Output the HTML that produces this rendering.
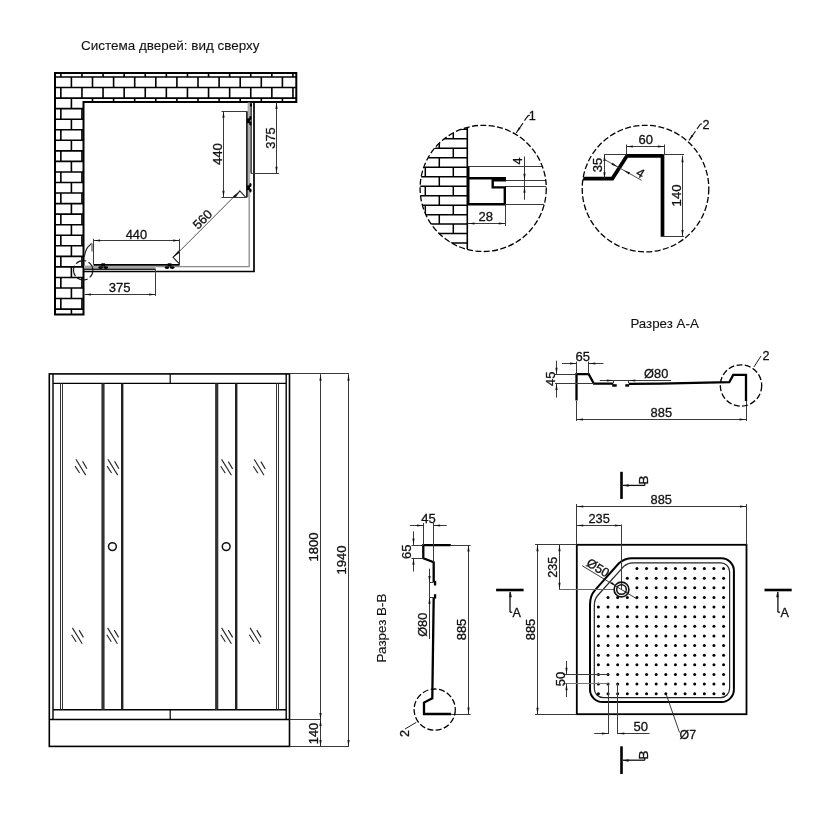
<!DOCTYPE html>
<html><head><meta charset="utf-8"><style>
html,body{margin:0;padding:0;background:#fff;}
svg{display:block;will-change:transform;font-family:"Liberation Sans",sans-serif;}
text{stroke:#111;stroke-width:0.3px;}
text.lbl{stroke-width:0.1px;}
</style></head><body>
<svg width="813" height="813" viewBox="0 0 813 813">
<rect width="813" height="813" fill="#fff"/>
<text x="81" y="49.9" font-size="13.5" text-anchor="start" fill="#111" textLength="178.5" lengthAdjust="spacingAndGlyphs" class="lbl">Система дверей: вид сверху</text>
<clipPath id="wallclip"><path d="M55,73 H296.3 V102 H83.5 V314.4 H55 Z"/></clipPath>
<g clip-path="url(#wallclip)"><path d="M60.85,66.45 V77 M81.95,66.45 V77 M103.05,66.45 V77 M124.15,66.45 V77 M145.25,66.45 V77 M166.35,66.45 V77 M187.45,66.45 V77 M208.55,66.45 V77 M229.65,66.45 V77 M250.75,66.45 V77 M271.85,66.45 V77 M292.95,66.45 V77 M55,77 H296.3 M71.4,77 V87.55 M92.5,77 V87.55 M113.6,77 V87.55 M134.7,77 V87.55 M155.8,77 V87.55 M176.9,77 V87.55 M198,77 V87.55 M219.1,77 V87.55 M240.2,77 V87.55 M261.3,77 V87.55 M282.4,77 V87.55 M55,87.55 H296.3 M60.85,87.55 V98.1 M81.95,87.55 V98.1 M103.05,87.55 V98.1 M124.15,87.55 V98.1 M145.25,87.55 V98.1 M166.35,87.55 V98.1 M187.45,87.55 V98.1 M208.55,87.55 V98.1 M229.65,87.55 V98.1 M250.75,87.55 V98.1 M271.85,87.55 V98.1 M292.95,87.55 V98.1 M55,98.1 H296.3 M71.4,98.1 V108.65 M92.5,98.1 V108.65 M113.6,98.1 V108.65 M134.7,98.1 V108.65 M155.8,98.1 V108.65 M176.9,98.1 V108.65 M198,98.1 V108.65 M219.1,98.1 V108.65 M240.2,98.1 V108.65 M261.3,98.1 V108.65 M282.4,98.1 V108.65 M55,108.65 H296.3 M60.85,108.65 V119.2 M81.95,108.65 V119.2 M103.05,108.65 V119.2 M124.15,108.65 V119.2 M145.25,108.65 V119.2 M166.35,108.65 V119.2 M187.45,108.65 V119.2 M208.55,108.65 V119.2 M229.65,108.65 V119.2 M250.75,108.65 V119.2 M271.85,108.65 V119.2 M292.95,108.65 V119.2 M55,119.2 H296.3 M71.4,119.2 V129.75 M92.5,119.2 V129.75 M113.6,119.2 V129.75 M134.7,119.2 V129.75 M155.8,119.2 V129.75 M176.9,119.2 V129.75 M198,119.2 V129.75 M219.1,119.2 V129.75 M240.2,119.2 V129.75 M261.3,119.2 V129.75 M282.4,119.2 V129.75 M55,129.75 H296.3 M60.85,129.75 V140.3 M81.95,129.75 V140.3 M103.05,129.75 V140.3 M124.15,129.75 V140.3 M145.25,129.75 V140.3 M166.35,129.75 V140.3 M187.45,129.75 V140.3 M208.55,129.75 V140.3 M229.65,129.75 V140.3 M250.75,129.75 V140.3 M271.85,129.75 V140.3 M292.95,129.75 V140.3 M55,140.3 H296.3 M71.4,140.3 V150.85 M92.5,140.3 V150.85 M113.6,140.3 V150.85 M134.7,140.3 V150.85 M155.8,140.3 V150.85 M176.9,140.3 V150.85 M198,140.3 V150.85 M219.1,140.3 V150.85 M240.2,140.3 V150.85 M261.3,140.3 V150.85 M282.4,140.3 V150.85 M55,150.85 H296.3 M60.85,150.85 V161.4 M81.95,150.85 V161.4 M103.05,150.85 V161.4 M124.15,150.85 V161.4 M145.25,150.85 V161.4 M166.35,150.85 V161.4 M187.45,150.85 V161.4 M208.55,150.85 V161.4 M229.65,150.85 V161.4 M250.75,150.85 V161.4 M271.85,150.85 V161.4 M292.95,150.85 V161.4 M55,161.4 H296.3 M71.4,161.4 V171.95 M92.5,161.4 V171.95 M113.6,161.4 V171.95 M134.7,161.4 V171.95 M155.8,161.4 V171.95 M176.9,161.4 V171.95 M198,161.4 V171.95 M219.1,161.4 V171.95 M240.2,161.4 V171.95 M261.3,161.4 V171.95 M282.4,161.4 V171.95 M55,171.95 H296.3 M60.85,171.95 V182.5 M81.95,171.95 V182.5 M103.05,171.95 V182.5 M124.15,171.95 V182.5 M145.25,171.95 V182.5 M166.35,171.95 V182.5 M187.45,171.95 V182.5 M208.55,171.95 V182.5 M229.65,171.95 V182.5 M250.75,171.95 V182.5 M271.85,171.95 V182.5 M292.95,171.95 V182.5 M55,182.5 H296.3 M71.4,182.5 V193.05 M92.5,182.5 V193.05 M113.6,182.5 V193.05 M134.7,182.5 V193.05 M155.8,182.5 V193.05 M176.9,182.5 V193.05 M198,182.5 V193.05 M219.1,182.5 V193.05 M240.2,182.5 V193.05 M261.3,182.5 V193.05 M282.4,182.5 V193.05 M55,193.05 H296.3 M60.85,193.05 V203.6 M81.95,193.05 V203.6 M103.05,193.05 V203.6 M124.15,193.05 V203.6 M145.25,193.05 V203.6 M166.35,193.05 V203.6 M187.45,193.05 V203.6 M208.55,193.05 V203.6 M229.65,193.05 V203.6 M250.75,193.05 V203.6 M271.85,193.05 V203.6 M292.95,193.05 V203.6 M55,203.6 H296.3 M71.4,203.6 V214.15 M92.5,203.6 V214.15 M113.6,203.6 V214.15 M134.7,203.6 V214.15 M155.8,203.6 V214.15 M176.9,203.6 V214.15 M198,203.6 V214.15 M219.1,203.6 V214.15 M240.2,203.6 V214.15 M261.3,203.6 V214.15 M282.4,203.6 V214.15 M55,214.15 H296.3 M60.85,214.15 V224.7 M81.95,214.15 V224.7 M103.05,214.15 V224.7 M124.15,214.15 V224.7 M145.25,214.15 V224.7 M166.35,214.15 V224.7 M187.45,214.15 V224.7 M208.55,214.15 V224.7 M229.65,214.15 V224.7 M250.75,214.15 V224.7 M271.85,214.15 V224.7 M292.95,214.15 V224.7 M55,224.7 H296.3 M71.4,224.7 V235.25 M92.5,224.7 V235.25 M113.6,224.7 V235.25 M134.7,224.7 V235.25 M155.8,224.7 V235.25 M176.9,224.7 V235.25 M198,224.7 V235.25 M219.1,224.7 V235.25 M240.2,224.7 V235.25 M261.3,224.7 V235.25 M282.4,224.7 V235.25 M55,235.25 H296.3 M60.85,235.25 V245.8 M81.95,235.25 V245.8 M103.05,235.25 V245.8 M124.15,235.25 V245.8 M145.25,235.25 V245.8 M166.35,235.25 V245.8 M187.45,235.25 V245.8 M208.55,235.25 V245.8 M229.65,235.25 V245.8 M250.75,235.25 V245.8 M271.85,235.25 V245.8 M292.95,235.25 V245.8 M55,245.8 H296.3 M71.4,245.8 V256.35 M92.5,245.8 V256.35 M113.6,245.8 V256.35 M134.7,245.8 V256.35 M155.8,245.8 V256.35 M176.9,245.8 V256.35 M198,245.8 V256.35 M219.1,245.8 V256.35 M240.2,245.8 V256.35 M261.3,245.8 V256.35 M282.4,245.8 V256.35 M55,256.35 H296.3 M60.85,256.35 V266.9 M81.95,256.35 V266.9 M103.05,256.35 V266.9 M124.15,256.35 V266.9 M145.25,256.35 V266.9 M166.35,256.35 V266.9 M187.45,256.35 V266.9 M208.55,256.35 V266.9 M229.65,256.35 V266.9 M250.75,256.35 V266.9 M271.85,256.35 V266.9 M292.95,256.35 V266.9 M55,266.9 H296.3 M71.4,266.9 V277.45 M92.5,266.9 V277.45 M113.6,266.9 V277.45 M134.7,266.9 V277.45 M155.8,266.9 V277.45 M176.9,266.9 V277.45 M198,266.9 V277.45 M219.1,266.9 V277.45 M240.2,266.9 V277.45 M261.3,266.9 V277.45 M282.4,266.9 V277.45 M55,277.45 H296.3 M60.85,277.45 V288 M81.95,277.45 V288 M103.05,277.45 V288 M124.15,277.45 V288 M145.25,277.45 V288 M166.35,277.45 V288 M187.45,277.45 V288 M208.55,277.45 V288 M229.65,277.45 V288 M250.75,277.45 V288 M271.85,277.45 V288 M292.95,277.45 V288 M55,288 H296.3 M71.4,288 V298.55 M92.5,288 V298.55 M113.6,288 V298.55 M134.7,288 V298.55 M155.8,288 V298.55 M176.9,288 V298.55 M198,288 V298.55 M219.1,288 V298.55 M240.2,288 V298.55 M261.3,288 V298.55 M282.4,288 V298.55 M55,298.55 H296.3 M60.85,298.55 V309.1 M81.95,298.55 V309.1 M103.05,298.55 V309.1 M124.15,298.55 V309.1 M145.25,298.55 V309.1 M166.35,298.55 V309.1 M187.45,298.55 V309.1 M208.55,298.55 V309.1 M229.65,298.55 V309.1 M250.75,298.55 V309.1 M271.85,298.55 V309.1 M292.95,298.55 V309.1 M55,309.1 H296.3 M71.4,309.1 V319.65 M92.5,309.1 V319.65 M113.6,309.1 V319.65 M134.7,309.1 V319.65 M155.8,309.1 V319.65 M176.9,309.1 V319.65 M198,309.1 V319.65 M219.1,309.1 V319.65 M240.2,309.1 V319.65 M261.3,309.1 V319.65 M282.4,309.1 V319.65" stroke="#000" stroke-width="1.6" fill="none"/></g>
<path d="M55,73 L296.3,73 L296.3,102 L83.5,102 L83.5,314.4 L55,314.4 Z" stroke="#000" stroke-width="2" fill="none" stroke-linejoin="miter" />
<path d="M254,102 L254,271.5 L83.5,271.5" stroke="#000" stroke-width="1.7" fill="none" stroke-linejoin="miter" />
<path d="M249.2,103 L249.2,266.6 L155.6,266.6" stroke="#8a8a8a" stroke-width="1.3" fill="none" stroke-linejoin="miter" />
<rect x="247.6" y="102.5" width="2.6" height="94.7" fill="#ababab" stroke="none" stroke-width="0"/>
<line x1="246.9" y1="111.3" x2="246.9" y2="197.2" stroke="#000" stroke-width="1.5" />
<line x1="251.1" y1="102" x2="251.1" y2="173.2" stroke="#222" stroke-width="1.4" />
<rect x="84" y="265.6" width="71.6" height="2.9" fill="#a5a5a5" stroke="none" stroke-width="0"/>
<line x1="93.6" y1="264.9" x2="179.6" y2="264.9" stroke="#000" stroke-width="1.6" />
<line x1="84" y1="269.3" x2="155.6" y2="269.3" stroke="#222" stroke-width="1.4" />
<rect x="246.8" y="118.3" width="3.2" height="4.8" fill="#000" stroke="none" stroke-width="0"/>
<ellipse cx="250.4" cy="117.9" rx="1.2" ry="2" fill="#000"/>
<ellipse cx="250.4" cy="123.5" rx="1.2" ry="2" fill="#000"/>
<rect x="246.8" y="185.3" width="3.2" height="4.8" fill="#000" stroke="none" stroke-width="0"/>
<ellipse cx="250.4" cy="184.9" rx="1.2" ry="2" fill="#000"/>
<ellipse cx="250.4" cy="190.5" rx="1.2" ry="2" fill="#000"/>
<rect x="101.3" y="263.3" width="3.8" height="3.2" fill="#000" stroke="none" stroke-width="0"/>
<ellipse cx="100.6" cy="267.6" rx="2.4" ry="1.4" fill="#000"/>
<ellipse cx="105.8" cy="267.6" rx="2.4" ry="1.4" fill="#000"/>
<rect x="167.7" y="263.3" width="3.8" height="3.2" fill="#000" stroke="none" stroke-width="0"/>
<ellipse cx="167" cy="267.6" rx="2.4" ry="1.4" fill="#000"/>
<ellipse cx="172.2" cy="267.6" rx="2.4" ry="1.4" fill="#000"/>
<rect x="250" y="103.5" width="2" height="3" fill="#000"/>
<path d="M235.1,197.2 L239.8,190.9 L245.6,197.2" stroke="#222" stroke-width="1.1" fill="none" stroke-linejoin="miter" />
<path d="M179.6,250.4 L173,257.3 L179.6,264" stroke="#222" stroke-width="1.1" fill="none" stroke-linejoin="miter" />
<line x1="221.5" y1="111.5" x2="246.9" y2="111.5" stroke="#3a3a3a" stroke-width="1" />
<line x1="221.5" y1="197.5" x2="246.9" y2="197.5" stroke="#3a3a3a" stroke-width="1" />
<line x1="223.5" y1="111.3" x2="223.5" y2="197.2" stroke="#3a3a3a" stroke-width="1" />
<path d="M223.5,111.3 L224.6,117.8 L222.4,117.8 Z" fill="#111"/>
<path d="M223.5,197.2 L222.4,190.7 L224.6,190.7 Z" fill="#111"/>
<line x1="251.1" y1="173.5" x2="279" y2="173.5" stroke="#3a3a3a" stroke-width="1" />
<line x1="276.5" y1="102.5" x2="276.5" y2="173.2" stroke="#3a3a3a" stroke-width="1" />
<path d="M276.5,102.5 L277.6,109 L275.4,109 Z" fill="#111"/>
<path d="M276.5,173.2 L275.4,166.7 L277.6,166.7 Z" fill="#111"/>
<text transform="translate(221.9,154.1) rotate(-90)" font-size="12.6" text-anchor="middle" fill="#111" textLength="22" lengthAdjust="spacingAndGlyphs" >440</text>
<text transform="translate(275.1,138) rotate(-90)" font-size="12.6" text-anchor="middle" fill="#111" textLength="21.4" lengthAdjust="spacingAndGlyphs" >375</text>
<line x1="93.5" y1="238.8" x2="93.5" y2="264.9" stroke="#3a3a3a" stroke-width="1" />
<line x1="179.5" y1="238.8" x2="179.5" y2="264.9" stroke="#3a3a3a" stroke-width="1" />
<line x1="93.6" y1="240.5" x2="179.6" y2="240.5" stroke="#3a3a3a" stroke-width="1" />
<path d="M93.6,240.5 L100.1,239.4 L100.1,241.6 Z" fill="#111"/>
<path d="M179.6,240.5 L173.1,241.6 L173.1,239.4 Z" fill="#111"/>
<text x="136.4" y="238.6" font-size="12.6" text-anchor="middle" fill="#111" textLength="21.4" lengthAdjust="spacingAndGlyphs" >440</text>
<line x1="155.5" y1="269.3" x2="155.5" y2="296" stroke="#3a3a3a" stroke-width="1" />
<line x1="84.5" y1="294.5" x2="155.6" y2="294.5" stroke="#3a3a3a" stroke-width="1" />
<path d="M84.5,294.5 L91,293.4 L91,295.6 Z" fill="#111"/>
<path d="M155.6,294.5 L149.1,295.6 L149.1,293.4 Z" fill="#111"/>
<text x="119.6" y="292.1" font-size="12.6" text-anchor="middle" fill="#111" textLength="21.8" lengthAdjust="spacingAndGlyphs" >375</text>
<line x1="238.3" y1="192.4" x2="174.2" y2="256.6" stroke="#3a3a3a" stroke-width="0.9" />
<path d="M238.3,192.4 L234.49,197.78 L232.93,196.22 Z" fill="#111"/>
<path d="M174.2,256.6 L178.01,251.22 L179.57,252.78 Z" fill="#111"/>
<text transform="translate(205.5,222.5) rotate(-45)" font-size="12.6" text-anchor="middle" fill="#111" textLength="21.5" lengthAdjust="spacingAndGlyphs" >560</text>
<circle cx="83.2" cy="270.3" r="9.7" stroke="#111" stroke-width="1.1" fill="none" stroke-dasharray="11 2.5" stroke-dashoffset="3"/>
<path d="M84.3,257 Q85.5,250 87.6,247.3 L91.6,243.3" stroke="#222" stroke-width="1.1" fill="none"/>
<line x1="92" y1="243.5" x2="92" y2="251.6" stroke="#777" stroke-width="1.5" />
<clipPath id="c1"><circle cx="483.2" cy="188.4" r="63.1"/></clipPath>
<g clip-path="url(#c1)"><path d="M400,119.84 H467 M411.3,119.84 V129.32 M439.3,119.84 V129.32 M400,129.32 H467 M425.3,129.32 V138.8 M453.3,129.32 V138.8 M400,138.8 H467 M411.3,138.8 V148.28 M439.3,138.8 V148.28 M400,148.28 H467 M425.3,148.28 V157.76 M453.3,148.28 V157.76 M400,157.76 H467 M411.3,157.76 V167.24 M439.3,157.76 V167.24 M400,167.24 H467 M425.3,167.24 V176.72 M453.3,167.24 V176.72 M400,176.72 H467 M411.3,176.72 V186.2 M439.3,176.72 V186.2 M400,186.2 H467 M425.3,186.2 V195.68 M453.3,186.2 V195.68 M400,195.68 H467 M411.3,195.68 V205.16 M439.3,195.68 V205.16 M400,205.16 H467 M425.3,205.16 V214.64 M453.3,205.16 V214.64 M400,214.64 H467 M411.3,214.64 V224.12 M439.3,214.64 V224.12 M400,224.12 H467 M425.3,224.12 V233.6 M453.3,224.12 V233.6 M400,233.6 H467 M411.3,233.6 V243.08 M439.3,233.6 V243.08 M400,243.08 H467 M425.3,243.08 V252.56 M453.3,243.08 V252.56 M400,252.56 H467 M411.3,252.56 V262.04 M439.3,252.56 V262.04" stroke="#000" stroke-width="1.5" fill="none"/>
<line x1="467.3" y1="100" x2="467.3" y2="260" stroke="#000" stroke-width="1.6" />
<line x1="467" y1="166.5" x2="560" y2="166.5" stroke="#3a3a3a" stroke-width="1" />
<line x1="505" y1="180.5" x2="560" y2="180.5" stroke="#3a3a3a" stroke-width="1" />
<line x1="505" y1="186.5" x2="560" y2="186.5" stroke="#3a3a3a" stroke-width="1" />
<line x1="505" y1="204.5" x2="560" y2="204.5" stroke="#3a3a3a" stroke-width="1" />
</g>
<path d="M468.3,166.5 L468.3,204.3 L504.8,204.3 L504.8,187.4 L492.7,187.4 L492.7,180.3 L504.8,180.3 L504.8,178.3 L468.3,178.3" stroke="#000" stroke-width="2.4" fill="none" stroke-linejoin="miter" />
<circle cx="483.2" cy="188.4" r="63.1" stroke="#000" stroke-width="1.3" fill="none" stroke-dasharray="6 2.4"/>
<line x1="524.5" y1="156.5" x2="524.5" y2="199.8" stroke="#3a3a3a" stroke-width="1" />
<path d="M524.5,180.3 L523.4,173.8 L525.6,173.8 Z" fill="#111"/>
<path d="M524.5,186.2 L525.6,192.7 L523.4,192.7 Z" fill="#111"/>
<text transform="translate(522.2,161.1) rotate(-90)" font-size="12.6" text-anchor="middle" fill="#111" >4</text>
<line x1="505.5" y1="204.3" x2="505.5" y2="226" stroke="#3a3a3a" stroke-width="1" />
<line x1="468" y1="223.5" x2="505.3" y2="223.5" stroke="#3a3a3a" stroke-width="1" />
<path d="M468,223.5 L474.5,222.4 L474.5,224.6 Z" fill="#111"/>
<path d="M505.3,223.5 L498.8,224.6 L498.8,222.4 Z" fill="#111"/>
<text x="485.8" y="220.5" font-size="12.6" text-anchor="middle" fill="#111" textLength="14.5" lengthAdjust="spacingAndGlyphs" >28</text>
<line x1="516.1" y1="133" x2="523" y2="123.1" stroke="#111" stroke-width="1.1" />
<path d="M516.8,132 L518.76,127.27 L520.56,128.53 Z" fill="#111"/>
<path d="M524.4,120.7 L528.2,115.6 L529.8,115.2" stroke="#111" stroke-width="1.1" fill="none" stroke-linejoin="miter" />
<text x="532.3" y="120.3" font-size="12.6" text-anchor="middle" fill="#111" >1</text>
<circle cx="645.5" cy="188.6" r="63.3" stroke="#000" stroke-width="1.3" fill="none" stroke-dasharray="6 2.4"/>
<clipPath id="c2"><circle cx="645.5" cy="188.6" r="63.3"/></clipPath>
<g clip-path="url(#c2)">
<path d="M580,178.6 L612.4,178.6 L627,155.8 L662.5,155.8 L662.5,236.8" stroke="#000" stroke-width="3.7" fill="none" stroke-linejoin="miter" />
</g>
<line x1="604.4" y1="154.5" x2="627" y2="154.5" stroke="#3a3a3a" stroke-width="1" />
<line x1="662.4" y1="154.5" x2="684" y2="154.5" stroke="#3a3a3a" stroke-width="1" />
<line x1="626.5" y1="144.5" x2="626.5" y2="154.4" stroke="#3a3a3a" stroke-width="1" />
<line x1="664.5" y1="144.5" x2="664.5" y2="154.4" stroke="#3a3a3a" stroke-width="1" />
<line x1="626.4" y1="146.5" x2="664.4" y2="146.5" stroke="#3a3a3a" stroke-width="1" />
<path d="M626.4,146.5 L632.9,145.4 L632.9,147.6 Z" fill="#111"/>
<path d="M664.4,146.5 L657.9,147.6 L657.9,145.4 Z" fill="#111"/>
<text x="645.7" y="144.2" font-size="12.6" text-anchor="middle" fill="#111" textLength="14.5" lengthAdjust="spacingAndGlyphs" >60</text>
<line x1="604.5" y1="154.4" x2="604.5" y2="178.7" stroke="#3a3a3a" stroke-width="1" />
<path d="M604.5,154.4 L605.6,160.9 L603.4,160.9 Z" fill="#111"/>
<path d="M604.5,178.7 L603.4,172.2 L605.6,172.2 Z" fill="#111"/>
<text transform="translate(602.1,165) rotate(-90)" font-size="12.6" text-anchor="middle" fill="#111" textLength="14.5" lengthAdjust="spacingAndGlyphs" >35</text>
<line x1="604.5" y1="159.5" x2="641.7" y2="180.4" stroke="#3a3a3a" stroke-width="0.9" />
<path d="M617.7,166.9 L611.49,164.68 L612.57,162.76 Z" fill="#111"/>
<path d="M623.8,170.3 L630,172.54 L628.92,174.45 Z" fill="#111"/>
<text transform="translate(638.3,176.7) rotate(31)" font-size="12.6" text-anchor="middle" fill="#111" >4</text>
<line x1="662.4" y1="236.5" x2="684" y2="236.5" stroke="#3a3a3a" stroke-width="1" />
<line x1="682.5" y1="155.7" x2="682.5" y2="236.6" stroke="#3a3a3a" stroke-width="1" />
<path d="M682.5,155.7 L683.6,162.2 L681.4,162.2 Z" fill="#111"/>
<path d="M682.5,236.6 L681.4,230.1 L683.6,230.1 Z" fill="#111"/>
<text transform="translate(680.5,195.5) rotate(-90)" font-size="12.6" text-anchor="middle" fill="#111" textLength="21.8" lengthAdjust="spacingAndGlyphs" >140</text>
<line x1="689" y1="140.4" x2="695.5" y2="131.2" stroke="#111" stroke-width="1.1" />
<path d="M689.6,139.4 L691.63,134.7 L693.41,135.98 Z" fill="#111"/>
<path d="M697,128.8 L700.4,124.2 L702,123.8" stroke="#111" stroke-width="1.1" fill="none" stroke-linejoin="miter" />
<text x="706" y="129.3" font-size="12.6" text-anchor="middle" fill="#111" >2</text>
<text x="664.6" y="327.8" font-size="13.4" text-anchor="middle" fill="#111" textLength="68.4" lengthAdjust="spacingAndGlyphs" class="lbl">Разрез А-А</text>
<path d="M576.5,400.5 L576.5,374.2 L588.7,374.2 L593.9,383.7 L613.3,383.7" stroke="#000" stroke-width="2.3" fill="none" stroke-linejoin="miter" />
<rect x="612.2" y="384.2" width="4.5" height="2.5" fill="#000" stroke="none" stroke-width="0"/>
<path d="M628.8,383.9 L660,383.6 L729.3,382.2 L733.2,374.9 L746,374.9 L746,400.9" stroke="#000" stroke-width="2.3" fill="none" stroke-linejoin="miter" />
<rect x="625.3" y="384.2" width="3.9" height="2.5" fill="#000" stroke="none" stroke-width="0"/>
<line x1="576.5" y1="361.5" x2="576.5" y2="374" stroke="#3a3a3a" stroke-width="1" />
<line x1="588.5" y1="361.5" x2="588.5" y2="374" stroke="#3a3a3a" stroke-width="1" />
<line x1="562" y1="363.5" x2="576.5" y2="363.5" stroke="#3a3a3a" stroke-width="1" />
<path d="M576.5,363.5 L570,364.6 L570,362.4 Z" fill="#111"/>
<line x1="588.9" y1="363.5" x2="603.5" y2="363.5" stroke="#3a3a3a" stroke-width="1" />
<path d="M588.9,363.5 L595.4,362.4 L595.4,364.6 Z" fill="#111"/>
<text x="582.8" y="361.1" font-size="12.6" text-anchor="middle" fill="#111" textLength="14.5" lengthAdjust="spacingAndGlyphs" >65</text>
<line x1="555" y1="374.5" x2="576.5" y2="374.5" stroke="#3a3a3a" stroke-width="1" />
<line x1="555" y1="383.5" x2="594" y2="383.5" stroke="#3a3a3a" stroke-width="1" />
<line x1="556.5" y1="360.7" x2="556.5" y2="374.2" stroke="#3a3a3a" stroke-width="1" />
<path d="M556.5,374.2 L555.4,367.7 L557.6,367.7 Z" fill="#111"/>
<line x1="556.5" y1="383.5" x2="556.5" y2="397.6" stroke="#3a3a3a" stroke-width="1" />
<path d="M556.5,383.5 L557.6,390 L555.4,390 Z" fill="#111"/>
<text transform="translate(554.5,378.8) rotate(-90)" font-size="12.6" text-anchor="middle" fill="#111" textLength="14.5" lengthAdjust="spacingAndGlyphs" >45</text>
<line x1="599.8" y1="380.5" x2="671" y2="380.5" stroke="#3a3a3a" stroke-width="1" />
<path d="M613.3,380.5 L606.8,381.6 L606.8,379.4 Z" fill="#111"/>
<path d="M628.8,380.5 L635.3,379.4 L635.3,381.6 Z" fill="#111"/>
<line x1="613.5" y1="380.4" x2="613.5" y2="383" stroke="#3a3a3a" stroke-width="1" />
<line x1="628.5" y1="380.4" x2="628.5" y2="383" stroke="#3a3a3a" stroke-width="1" />
<text x="656.2" y="377.8" font-size="12.6" text-anchor="middle" fill="#111" textLength="24.2" lengthAdjust="spacingAndGlyphs" >Ø80</text>
<line x1="576.5" y1="401" x2="576.5" y2="421" stroke="#3a3a3a" stroke-width="1" />
<line x1="746.5" y1="401" x2="746.5" y2="421" stroke="#3a3a3a" stroke-width="1" />
<line x1="576.5" y1="419.5" x2="746" y2="419.5" stroke="#3a3a3a" stroke-width="1" />
<path d="M576.5,419.5 L583,418.4 L583,420.6 Z" fill="#111"/>
<path d="M746,419.5 L739.5,420.6 L739.5,418.4 Z" fill="#111"/>
<text x="661.3" y="416.6" font-size="12.6" text-anchor="middle" fill="#111" textLength="21.5" lengthAdjust="spacingAndGlyphs" >885</text>
<circle cx="741" cy="385.5" r="20.7" stroke="#000" stroke-width="1.3" fill="none" stroke-dasharray="6 2.4"/>
<path d="M753.9,367 L761,356" stroke="#222" stroke-width="1" fill="none" stroke-linejoin="miter" />
<text x="766" y="359.8" font-size="12.6" text-anchor="middle" fill="#111" >2</text>
<rect x="49.3" y="373.9" width="240.2" height="372.5" fill="none" stroke="#000" stroke-width="1.6"/>
<line x1="53" y1="373.9" x2="53" y2="719.5" stroke="#000" stroke-width="1.4" />
<line x1="286.2" y1="373.9" x2="286.2" y2="719.5" stroke="#000" stroke-width="1.4" />
<line x1="53" y1="383.4" x2="286.2" y2="383.4" stroke="#000" stroke-width="1.4" />
<line x1="53" y1="709.8" x2="286.2" y2="709.8" stroke="#000" stroke-width="1.4" />
<line x1="49.3" y1="719.5" x2="289.5" y2="719.5" stroke="#000" stroke-width="1.6" />
<line x1="170.2" y1="373.9" x2="170.2" y2="383.4" stroke="#000" stroke-width="1.2" />
<line x1="170.2" y1="709.8" x2="170.2" y2="719.5" stroke="#000" stroke-width="1.2" />
<line x1="60.5" y1="383.4" x2="60.5" y2="709.8" stroke="#333" stroke-width="1" />
<line x1="62.5" y1="383.4" x2="62.5" y2="709.8" stroke="#333" stroke-width="1" />
<line x1="276.5" y1="383.4" x2="276.5" y2="709.8" stroke="#333" stroke-width="1" />
<line x1="278.5" y1="383.4" x2="278.5" y2="709.8" stroke="#333" stroke-width="1" />
<line x1="103" y1="383.4" x2="103" y2="709.8" stroke="#333" stroke-width="3.2" />
<line x1="216.7" y1="383.4" x2="216.7" y2="709.8" stroke="#333" stroke-width="3.2" />
<line x1="122.2" y1="383.4" x2="122.2" y2="709.8" stroke="#222" stroke-width="2.4" />
<line x1="236.2" y1="383.4" x2="236.2" y2="709.8" stroke="#222" stroke-width="2.4" />
<circle cx="112.4" cy="546.6" r="3.9" stroke="#111" stroke-width="1.5" fill="none" />
<circle cx="226.2" cy="546.6" r="3.9" stroke="#111" stroke-width="1.5" fill="none" />
<line x1="75.9" y1="459.2" x2="85.7" y2="475.1" stroke="#222" stroke-width="1.1" />
<line x1="75.1" y1="466.1" x2="79.6" y2="473" stroke="#222" stroke-width="1.1" />
<line x1="82.6" y1="461.4" x2="86.9" y2="468.7" stroke="#222" stroke-width="1.1" />
<line x1="107.9" y1="459.2" x2="117.7" y2="475.1" stroke="#222" stroke-width="1.1" />
<line x1="107.1" y1="466.1" x2="111.6" y2="473" stroke="#222" stroke-width="1.1" />
<line x1="114.6" y1="461.4" x2="118.9" y2="468.7" stroke="#222" stroke-width="1.1" />
<line x1="221.6" y1="459.4" x2="231.4" y2="475.3" stroke="#222" stroke-width="1.1" />
<line x1="220.8" y1="466.3" x2="225.3" y2="473.2" stroke="#222" stroke-width="1.1" />
<line x1="228.3" y1="461.6" x2="232.6" y2="468.9" stroke="#222" stroke-width="1.1" />
<line x1="254.2" y1="459.4" x2="264" y2="475.3" stroke="#222" stroke-width="1.1" />
<line x1="253.4" y1="466.3" x2="257.9" y2="473.2" stroke="#222" stroke-width="1.1" />
<line x1="260.9" y1="461.6" x2="265.2" y2="468.9" stroke="#222" stroke-width="1.1" />
<line x1="72.4" y1="627.9" x2="82.2" y2="643.8" stroke="#222" stroke-width="1.1" />
<line x1="71.6" y1="634.8" x2="76.1" y2="641.7" stroke="#222" stroke-width="1.1" />
<line x1="79.1" y1="630.1" x2="83.4" y2="637.4" stroke="#222" stroke-width="1.1" />
<line x1="107.6" y1="627.9" x2="117.4" y2="643.8" stroke="#222" stroke-width="1.1" />
<line x1="106.8" y1="634.8" x2="111.3" y2="641.7" stroke="#222" stroke-width="1.1" />
<line x1="114.3" y1="630.1" x2="118.6" y2="637.4" stroke="#222" stroke-width="1.1" />
<line x1="221.6" y1="627.9" x2="231.4" y2="643.8" stroke="#222" stroke-width="1.1" />
<line x1="220.8" y1="634.8" x2="225.3" y2="641.7" stroke="#222" stroke-width="1.1" />
<line x1="228.3" y1="630.1" x2="232.6" y2="637.4" stroke="#222" stroke-width="1.1" />
<line x1="250.1" y1="627.9" x2="259.9" y2="643.8" stroke="#222" stroke-width="1.1" />
<line x1="249.3" y1="634.8" x2="253.8" y2="641.7" stroke="#222" stroke-width="1.1" />
<line x1="256.8" y1="630.1" x2="261.1" y2="637.4" stroke="#222" stroke-width="1.1" />
<line x1="289.5" y1="373.5" x2="349" y2="373.5" stroke="#3a3a3a" stroke-width="1" />
<line x1="289.5" y1="719.5" x2="321" y2="719.5" stroke="#3a3a3a" stroke-width="1" />
<line x1="289.5" y1="746.5" x2="349" y2="746.5" stroke="#3a3a3a" stroke-width="1" />
<line x1="320.5" y1="374.2" x2="320.5" y2="719.5" stroke="#3a3a3a" stroke-width="1" />
<path d="M320.5,374.2 L321.6,380.7 L319.4,380.7 Z" fill="#111"/>
<path d="M320.5,719.5 L319.4,713 L321.6,713 Z" fill="#111"/>
<line x1="320.5" y1="719.5" x2="320.5" y2="746.4" stroke="#3a3a3a" stroke-width="1" />
<path d="M320.5,719.5 L321.6,726 L319.4,726 Z" fill="#111"/>
<path d="M320.5,746.4 L319.4,739.9 L321.6,739.9 Z" fill="#111"/>
<line x1="348.5" y1="374.2" x2="348.5" y2="746.4" stroke="#3a3a3a" stroke-width="1" />
<path d="M348.5,374.2 L349.6,380.7 L347.4,380.7 Z" fill="#111"/>
<path d="M348.5,746.4 L347.4,739.9 L349.6,739.9 Z" fill="#111"/>
<text transform="translate(318.1,547) rotate(-90)" font-size="12.6" text-anchor="middle" fill="#111" textLength="29" lengthAdjust="spacingAndGlyphs" >1800</text>
<text transform="translate(345.6,560.1) rotate(-90)" font-size="12.6" text-anchor="middle" fill="#111" textLength="29" lengthAdjust="spacingAndGlyphs" >1940</text>
<text transform="translate(318,733.5) rotate(-90)" font-size="12.6" text-anchor="middle" fill="#111" textLength="21.5" lengthAdjust="spacingAndGlyphs" >140</text>
<text transform="translate(385.8,628) rotate(-90)" font-size="12.8" text-anchor="middle" fill="#111" textLength="68.8" lengthAdjust="spacingAndGlyphs" class="lbl">Разрез В-В</text>
<path d="M450.8,545.1 L423.3,545.1 L423.3,558.2 L433.7,562.3 L433.7,582.6" stroke="#000" stroke-width="2.3" fill="none" stroke-linejoin="miter" />
<rect x="433.9" y="580.9" width="2.3" height="4.6" fill="#000" stroke="none" stroke-width="0"/>
<rect x="433.9" y="594.2" width="2.3" height="4.4" fill="#000" stroke="none" stroke-width="0"/>
<path d="M433.7,597.3 L432.3,698.3 L424,702.6 L424,714 L451.1,714" stroke="#000" stroke-width="2.3" fill="none" stroke-linejoin="miter" />
<line x1="423.5" y1="523" x2="423.5" y2="545" stroke="#3a3a3a" stroke-width="1" />
<line x1="433.5" y1="523" x2="433.5" y2="562" stroke="#3a3a3a" stroke-width="1" />
<line x1="409.9" y1="525.5" x2="423.4" y2="525.5" stroke="#3a3a3a" stroke-width="1" />
<path d="M423.4,525.5 L416.9,526.6 L416.9,524.4 Z" fill="#111"/>
<line x1="433.6" y1="525.5" x2="446.7" y2="525.5" stroke="#3a3a3a" stroke-width="1" />
<path d="M433.6,525.5 L440.1,524.4 L440.1,526.6 Z" fill="#111"/>
<text x="428.6" y="522.5" font-size="12.6" text-anchor="middle" fill="#111" textLength="14.5" lengthAdjust="spacingAndGlyphs" >45</text>
<line x1="411.5" y1="545.5" x2="423.3" y2="545.5" stroke="#3a3a3a" stroke-width="1" />
<line x1="411.5" y1="558.5" x2="423.3" y2="558.5" stroke="#3a3a3a" stroke-width="1" />
<line x1="413.5" y1="531.3" x2="413.5" y2="545.1" stroke="#3a3a3a" stroke-width="1" />
<path d="M413.5,545.1 L412.4,538.6 L414.6,538.6 Z" fill="#111"/>
<line x1="413.5" y1="558.3" x2="413.5" y2="571.6" stroke="#3a3a3a" stroke-width="1" />
<path d="M413.5,558.3 L414.6,564.8 L412.4,564.8 Z" fill="#111"/>
<text transform="translate(410.8,551.7) rotate(-90)" font-size="12.6" text-anchor="middle" fill="#111" textLength="14.5" lengthAdjust="spacingAndGlyphs" >65</text>
<line x1="429.5" y1="568.7" x2="429.5" y2="639" stroke="#3a3a3a" stroke-width="1" />
<path d="M429.5,582.6 L428.4,576.1 L430.6,576.1 Z" fill="#111"/>
<path d="M429.5,597.3 L430.6,603.8 L428.4,603.8 Z" fill="#111"/>
<line x1="429.5" y1="582.5" x2="433" y2="582.5" stroke="#3a3a3a" stroke-width="1" />
<line x1="429.5" y1="597.5" x2="433" y2="597.5" stroke="#3a3a3a" stroke-width="1" />
<text transform="translate(427,624.8) rotate(-90)" font-size="12.6" text-anchor="middle" fill="#111" textLength="24" lengthAdjust="spacingAndGlyphs" >Ø80</text>
<line x1="450.8" y1="545.5" x2="470.5" y2="545.5" stroke="#3a3a3a" stroke-width="1" />
<line x1="451.1" y1="714.5" x2="470.5" y2="714.5" stroke="#3a3a3a" stroke-width="1" />
<line x1="468.5" y1="545.1" x2="468.5" y2="714" stroke="#3a3a3a" stroke-width="1" />
<path d="M468.5,545.1 L469.6,551.6 L467.4,551.6 Z" fill="#111"/>
<path d="M468.5,714 L467.4,707.5 L469.6,707.5 Z" fill="#111"/>
<text transform="translate(466.1,629.5) rotate(-90)" font-size="12.6" text-anchor="middle" fill="#111" textLength="21.7" lengthAdjust="spacingAndGlyphs" >885</text>
<circle cx="434.7" cy="709.6" r="20.6" stroke="#000" stroke-width="1.3" fill="none" stroke-dasharray="6 2.4"/>
<path d="M416.3,722.3 L405,729" stroke="#222" stroke-width="1" fill="none" stroke-linejoin="miter" />
<text transform="translate(408.8,733.5) rotate(-90)" font-size="12.6" text-anchor="middle" fill="#111" >2</text>
<rect x="576.8" y="544.8" width="169.7" height="169.4" fill="none" stroke="#000" stroke-width="1.8"/>
<path d="M632,558.3 H721.4 A12.5,12.5 0 0 1 733.9,570.8 V689.5 A12.5,12.5 0 0 1 721.4,702 H602.5 A12.5,12.5 0 0 1 590,689.5 V604.55 Q590,595.8 595,590.17 L618.88,563.3 Q624.5,558.3 632,558.3 Z" stroke="#000" stroke-width="2" fill="none"/>
<path d="M633.2,562.8 H720.6 A9,9 0 0 1 729.6,571.8 V688.6 A9,9 0 0 1 720.6,697.6 H603.3 A9,9 0 0 1 594.3,688.6 V605.6 Q594.3,599.3 597.9,595.25 L623.75,566.4 Q627.8,562.8 633.2,562.8 Z" stroke="#222" stroke-width="1.2" fill="none"/>
<circle cx="636.92" cy="568.5" r="1.5" fill="#000"/>
<circle cx="646.55" cy="568.5" r="1.5" fill="#000"/>
<circle cx="656.18" cy="568.5" r="1.5" fill="#000"/>
<circle cx="665.81" cy="568.5" r="1.5" fill="#000"/>
<circle cx="675.44" cy="568.5" r="1.5" fill="#000"/>
<circle cx="685.07" cy="568.5" r="1.5" fill="#000"/>
<circle cx="694.7" cy="568.5" r="1.5" fill="#000"/>
<circle cx="704.33" cy="568.5" r="1.5" fill="#000"/>
<circle cx="713.96" cy="568.5" r="1.5" fill="#000"/>
<circle cx="723.59" cy="568.5" r="1.5" fill="#000"/>
<circle cx="627.29" cy="578.13" r="1.5" fill="#000"/>
<circle cx="636.92" cy="578.13" r="1.5" fill="#000"/>
<circle cx="646.55" cy="578.13" r="1.5" fill="#000"/>
<circle cx="656.18" cy="578.13" r="1.5" fill="#000"/>
<circle cx="665.81" cy="578.13" r="1.5" fill="#000"/>
<circle cx="675.44" cy="578.13" r="1.5" fill="#000"/>
<circle cx="685.07" cy="578.13" r="1.5" fill="#000"/>
<circle cx="694.7" cy="578.13" r="1.5" fill="#000"/>
<circle cx="704.33" cy="578.13" r="1.5" fill="#000"/>
<circle cx="713.96" cy="578.13" r="1.5" fill="#000"/>
<circle cx="723.59" cy="578.13" r="1.5" fill="#000"/>
<circle cx="636.92" cy="587.76" r="1.5" fill="#000"/>
<circle cx="646.55" cy="587.76" r="1.5" fill="#000"/>
<circle cx="656.18" cy="587.76" r="1.5" fill="#000"/>
<circle cx="665.81" cy="587.76" r="1.5" fill="#000"/>
<circle cx="675.44" cy="587.76" r="1.5" fill="#000"/>
<circle cx="685.07" cy="587.76" r="1.5" fill="#000"/>
<circle cx="694.7" cy="587.76" r="1.5" fill="#000"/>
<circle cx="704.33" cy="587.76" r="1.5" fill="#000"/>
<circle cx="713.96" cy="587.76" r="1.5" fill="#000"/>
<circle cx="723.59" cy="587.76" r="1.5" fill="#000"/>
<circle cx="608.03" cy="597.39" r="1.5" fill="#000"/>
<circle cx="617.66" cy="597.39" r="1.5" fill="#000"/>
<circle cx="627.29" cy="597.39" r="1.5" fill="#000"/>
<circle cx="636.92" cy="597.39" r="1.5" fill="#000"/>
<circle cx="646.55" cy="597.39" r="1.5" fill="#000"/>
<circle cx="656.18" cy="597.39" r="1.5" fill="#000"/>
<circle cx="665.81" cy="597.39" r="1.5" fill="#000"/>
<circle cx="675.44" cy="597.39" r="1.5" fill="#000"/>
<circle cx="685.07" cy="597.39" r="1.5" fill="#000"/>
<circle cx="694.7" cy="597.39" r="1.5" fill="#000"/>
<circle cx="704.33" cy="597.39" r="1.5" fill="#000"/>
<circle cx="713.96" cy="597.39" r="1.5" fill="#000"/>
<circle cx="723.59" cy="597.39" r="1.5" fill="#000"/>
<circle cx="598.4" cy="607.02" r="1.5" fill="#000"/>
<circle cx="608.03" cy="607.02" r="1.5" fill="#000"/>
<circle cx="617.66" cy="607.02" r="1.5" fill="#000"/>
<circle cx="627.29" cy="607.02" r="1.5" fill="#000"/>
<circle cx="636.92" cy="607.02" r="1.5" fill="#000"/>
<circle cx="646.55" cy="607.02" r="1.5" fill="#000"/>
<circle cx="656.18" cy="607.02" r="1.5" fill="#000"/>
<circle cx="665.81" cy="607.02" r="1.5" fill="#000"/>
<circle cx="675.44" cy="607.02" r="1.5" fill="#000"/>
<circle cx="685.07" cy="607.02" r="1.5" fill="#000"/>
<circle cx="694.7" cy="607.02" r="1.5" fill="#000"/>
<circle cx="704.33" cy="607.02" r="1.5" fill="#000"/>
<circle cx="713.96" cy="607.02" r="1.5" fill="#000"/>
<circle cx="723.59" cy="607.02" r="1.5" fill="#000"/>
<circle cx="598.4" cy="616.65" r="1.5" fill="#000"/>
<circle cx="608.03" cy="616.65" r="1.5" fill="#000"/>
<circle cx="617.66" cy="616.65" r="1.5" fill="#000"/>
<circle cx="627.29" cy="616.65" r="1.5" fill="#000"/>
<circle cx="636.92" cy="616.65" r="1.5" fill="#000"/>
<circle cx="646.55" cy="616.65" r="1.5" fill="#000"/>
<circle cx="656.18" cy="616.65" r="1.5" fill="#000"/>
<circle cx="665.81" cy="616.65" r="1.5" fill="#000"/>
<circle cx="675.44" cy="616.65" r="1.5" fill="#000"/>
<circle cx="685.07" cy="616.65" r="1.5" fill="#000"/>
<circle cx="694.7" cy="616.65" r="1.5" fill="#000"/>
<circle cx="704.33" cy="616.65" r="1.5" fill="#000"/>
<circle cx="713.96" cy="616.65" r="1.5" fill="#000"/>
<circle cx="723.59" cy="616.65" r="1.5" fill="#000"/>
<circle cx="598.4" cy="626.28" r="1.5" fill="#000"/>
<circle cx="608.03" cy="626.28" r="1.5" fill="#000"/>
<circle cx="617.66" cy="626.28" r="1.5" fill="#000"/>
<circle cx="627.29" cy="626.28" r="1.5" fill="#000"/>
<circle cx="636.92" cy="626.28" r="1.5" fill="#000"/>
<circle cx="646.55" cy="626.28" r="1.5" fill="#000"/>
<circle cx="656.18" cy="626.28" r="1.5" fill="#000"/>
<circle cx="665.81" cy="626.28" r="1.5" fill="#000"/>
<circle cx="675.44" cy="626.28" r="1.5" fill="#000"/>
<circle cx="685.07" cy="626.28" r="1.5" fill="#000"/>
<circle cx="694.7" cy="626.28" r="1.5" fill="#000"/>
<circle cx="704.33" cy="626.28" r="1.5" fill="#000"/>
<circle cx="713.96" cy="626.28" r="1.5" fill="#000"/>
<circle cx="723.59" cy="626.28" r="1.5" fill="#000"/>
<circle cx="598.4" cy="635.91" r="1.5" fill="#000"/>
<circle cx="608.03" cy="635.91" r="1.5" fill="#000"/>
<circle cx="617.66" cy="635.91" r="1.5" fill="#000"/>
<circle cx="627.29" cy="635.91" r="1.5" fill="#000"/>
<circle cx="636.92" cy="635.91" r="1.5" fill="#000"/>
<circle cx="646.55" cy="635.91" r="1.5" fill="#000"/>
<circle cx="656.18" cy="635.91" r="1.5" fill="#000"/>
<circle cx="665.81" cy="635.91" r="1.5" fill="#000"/>
<circle cx="675.44" cy="635.91" r="1.5" fill="#000"/>
<circle cx="685.07" cy="635.91" r="1.5" fill="#000"/>
<circle cx="694.7" cy="635.91" r="1.5" fill="#000"/>
<circle cx="704.33" cy="635.91" r="1.5" fill="#000"/>
<circle cx="713.96" cy="635.91" r="1.5" fill="#000"/>
<circle cx="723.59" cy="635.91" r="1.5" fill="#000"/>
<circle cx="598.4" cy="645.54" r="1.5" fill="#000"/>
<circle cx="608.03" cy="645.54" r="1.5" fill="#000"/>
<circle cx="617.66" cy="645.54" r="1.5" fill="#000"/>
<circle cx="627.29" cy="645.54" r="1.5" fill="#000"/>
<circle cx="636.92" cy="645.54" r="1.5" fill="#000"/>
<circle cx="646.55" cy="645.54" r="1.5" fill="#000"/>
<circle cx="656.18" cy="645.54" r="1.5" fill="#000"/>
<circle cx="665.81" cy="645.54" r="1.5" fill="#000"/>
<circle cx="675.44" cy="645.54" r="1.5" fill="#000"/>
<circle cx="685.07" cy="645.54" r="1.5" fill="#000"/>
<circle cx="694.7" cy="645.54" r="1.5" fill="#000"/>
<circle cx="704.33" cy="645.54" r="1.5" fill="#000"/>
<circle cx="713.96" cy="645.54" r="1.5" fill="#000"/>
<circle cx="723.59" cy="645.54" r="1.5" fill="#000"/>
<circle cx="598.4" cy="655.17" r="1.5" fill="#000"/>
<circle cx="608.03" cy="655.17" r="1.5" fill="#000"/>
<circle cx="617.66" cy="655.17" r="1.5" fill="#000"/>
<circle cx="627.29" cy="655.17" r="1.5" fill="#000"/>
<circle cx="636.92" cy="655.17" r="1.5" fill="#000"/>
<circle cx="646.55" cy="655.17" r="1.5" fill="#000"/>
<circle cx="656.18" cy="655.17" r="1.5" fill="#000"/>
<circle cx="665.81" cy="655.17" r="1.5" fill="#000"/>
<circle cx="675.44" cy="655.17" r="1.5" fill="#000"/>
<circle cx="685.07" cy="655.17" r="1.5" fill="#000"/>
<circle cx="694.7" cy="655.17" r="1.5" fill="#000"/>
<circle cx="704.33" cy="655.17" r="1.5" fill="#000"/>
<circle cx="713.96" cy="655.17" r="1.5" fill="#000"/>
<circle cx="723.59" cy="655.17" r="1.5" fill="#000"/>
<circle cx="598.4" cy="664.8" r="1.5" fill="#000"/>
<circle cx="608.03" cy="664.8" r="1.5" fill="#000"/>
<circle cx="617.66" cy="664.8" r="1.5" fill="#000"/>
<circle cx="627.29" cy="664.8" r="1.5" fill="#000"/>
<circle cx="636.92" cy="664.8" r="1.5" fill="#000"/>
<circle cx="646.55" cy="664.8" r="1.5" fill="#000"/>
<circle cx="656.18" cy="664.8" r="1.5" fill="#000"/>
<circle cx="665.81" cy="664.8" r="1.5" fill="#000"/>
<circle cx="675.44" cy="664.8" r="1.5" fill="#000"/>
<circle cx="685.07" cy="664.8" r="1.5" fill="#000"/>
<circle cx="694.7" cy="664.8" r="1.5" fill="#000"/>
<circle cx="704.33" cy="664.8" r="1.5" fill="#000"/>
<circle cx="713.96" cy="664.8" r="1.5" fill="#000"/>
<circle cx="723.59" cy="664.8" r="1.5" fill="#000"/>
<circle cx="598.4" cy="674.43" r="1.5" fill="#000"/>
<circle cx="608.03" cy="674.43" r="1.5" fill="#000"/>
<circle cx="617.66" cy="674.43" r="1.5" fill="#000"/>
<circle cx="627.29" cy="674.43" r="1.5" fill="#000"/>
<circle cx="636.92" cy="674.43" r="1.5" fill="#000"/>
<circle cx="646.55" cy="674.43" r="1.5" fill="#000"/>
<circle cx="656.18" cy="674.43" r="1.5" fill="#000"/>
<circle cx="665.81" cy="674.43" r="1.5" fill="#000"/>
<circle cx="675.44" cy="674.43" r="1.5" fill="#000"/>
<circle cx="685.07" cy="674.43" r="1.5" fill="#000"/>
<circle cx="694.7" cy="674.43" r="1.5" fill="#000"/>
<circle cx="704.33" cy="674.43" r="1.5" fill="#000"/>
<circle cx="713.96" cy="674.43" r="1.5" fill="#000"/>
<circle cx="723.59" cy="674.43" r="1.5" fill="#000"/>
<circle cx="598.4" cy="684.06" r="1.5" fill="#000"/>
<circle cx="608.03" cy="684.06" r="1.5" fill="#000"/>
<circle cx="617.66" cy="684.06" r="1.5" fill="#000"/>
<circle cx="627.29" cy="684.06" r="1.5" fill="#000"/>
<circle cx="636.92" cy="684.06" r="1.5" fill="#000"/>
<circle cx="646.55" cy="684.06" r="1.5" fill="#000"/>
<circle cx="656.18" cy="684.06" r="1.5" fill="#000"/>
<circle cx="665.81" cy="684.06" r="1.5" fill="#000"/>
<circle cx="675.44" cy="684.06" r="1.5" fill="#000"/>
<circle cx="685.07" cy="684.06" r="1.5" fill="#000"/>
<circle cx="694.7" cy="684.06" r="1.5" fill="#000"/>
<circle cx="704.33" cy="684.06" r="1.5" fill="#000"/>
<circle cx="713.96" cy="684.06" r="1.5" fill="#000"/>
<circle cx="723.59" cy="684.06" r="1.5" fill="#000"/>
<circle cx="598.4" cy="693.69" r="1.5" fill="#000"/>
<circle cx="608.03" cy="693.69" r="1.5" fill="#000"/>
<circle cx="617.66" cy="693.69" r="1.5" fill="#000"/>
<circle cx="627.29" cy="693.69" r="1.5" fill="#000"/>
<circle cx="636.92" cy="693.69" r="1.5" fill="#000"/>
<circle cx="646.55" cy="693.69" r="1.5" fill="#000"/>
<circle cx="656.18" cy="693.69" r="1.5" fill="#000"/>
<circle cx="665.81" cy="693.69" r="1.5" fill="#000"/>
<circle cx="675.44" cy="693.69" r="1.5" fill="#000"/>
<circle cx="685.07" cy="693.69" r="1.5" fill="#000"/>
<circle cx="694.7" cy="693.69" r="1.5" fill="#000"/>
<circle cx="704.33" cy="693.69" r="1.5" fill="#000"/>
<circle cx="713.96" cy="693.69" r="1.5" fill="#000"/>
<circle cx="723.59" cy="693.69" r="1.5" fill="#000"/>
<line x1="621.5" y1="524.5" x2="621.5" y2="589.5" stroke="#3a3a3a" stroke-width="1" />
<line x1="559" y1="589.5" x2="613.8" y2="589.5" stroke="#666" stroke-width="1" />
<circle cx="621.5" cy="589.5" r="7.4" stroke="#111" stroke-width="1.7" fill="none" />
<circle cx="621.5" cy="589.5" r="4.8" stroke="#111" stroke-width="1.5" fill="none" />
<line x1="582.3" y1="565.8" x2="637" y2="599" stroke="#222" stroke-width="0.9" />
<path d="M615.5,585.4 L610.65,583.75 L611.8,581.87 Z" fill="#111"/>
<text transform="translate(595.7,571.5) rotate(31)" font-size="12.6" text-anchor="middle" fill="#111" textLength="24" lengthAdjust="spacingAndGlyphs" >Ø50</text>
<line x1="576.5" y1="504" x2="576.5" y2="544.8" stroke="#3a3a3a" stroke-width="1" />
<line x1="746.5" y1="504" x2="746.5" y2="544.8" stroke="#3a3a3a" stroke-width="1" />
<line x1="576.8" y1="506.5" x2="746.5" y2="506.5" stroke="#3a3a3a" stroke-width="1" />
<path d="M576.8,506.5 L583.3,505.4 L583.3,507.6 Z" fill="#111"/>
<path d="M746.5,506.5 L740,507.6 L740,505.4 Z" fill="#111"/>
<text x="661.3" y="504.3" font-size="12.6" text-anchor="middle" fill="#111" textLength="21.4" lengthAdjust="spacingAndGlyphs" >885</text>
<line x1="576.8" y1="525.5" x2="621.4" y2="525.5" stroke="#3a3a3a" stroke-width="1" />
<path d="M576.8,525.5 L583.3,524.4 L583.3,526.6 Z" fill="#111"/>
<path d="M621.4,525.5 L614.9,526.6 L614.9,524.4 Z" fill="#111"/>
<text x="599.1" y="523" font-size="12.6" text-anchor="middle" fill="#111" textLength="21.4" lengthAdjust="spacingAndGlyphs" >235</text>
<line x1="535" y1="544.5" x2="576.8" y2="544.5" stroke="#3a3a3a" stroke-width="1" />
<line x1="535" y1="714.5" x2="576.8" y2="714.5" stroke="#3a3a3a" stroke-width="1" />
<line x1="537.5" y1="544.8" x2="537.5" y2="714.2" stroke="#3a3a3a" stroke-width="1" />
<path d="M537.5,544.8 L538.6,551.3 L536.4,551.3 Z" fill="#111"/>
<path d="M537.5,714.2 L536.4,707.7 L538.6,707.7 Z" fill="#111"/>
<text transform="translate(535,629.5) rotate(-90)" font-size="12.6" text-anchor="middle" fill="#111" textLength="21.7" lengthAdjust="spacingAndGlyphs" >885</text>
<line x1="559.5" y1="544.8" x2="559.5" y2="589.3" stroke="#3a3a3a" stroke-width="1" />
<path d="M559.5,544.8 L560.6,551.3 L558.4,551.3 Z" fill="#111"/>
<path d="M559.5,589.3 L558.4,582.8 L560.6,582.8 Z" fill="#111"/>
<text transform="translate(557,567.2) rotate(-90)" font-size="12.6" text-anchor="middle" fill="#111" textLength="21" lengthAdjust="spacingAndGlyphs" >235</text>
<line x1="563" y1="674.5" x2="608.3" y2="674.5" stroke="#3a3a3a" stroke-width="1" />
<line x1="563" y1="683.5" x2="608.3" y2="683.5" stroke="#777" stroke-width="1" />
<line x1="566.5" y1="661" x2="566.5" y2="674.2" stroke="#3a3a3a" stroke-width="1" />
<path d="M566.5,674.2 L565.4,667.7 L567.6,667.7 Z" fill="#111"/>
<line x1="566.5" y1="683.7" x2="566.5" y2="697.1" stroke="#3a3a3a" stroke-width="1" />
<path d="M566.5,683.7 L567.6,690.2 L565.4,690.2 Z" fill="#111"/>
<text transform="translate(564.6,678.9) rotate(-90)" font-size="12.6" text-anchor="middle" fill="#111" textLength="14.5" lengthAdjust="spacingAndGlyphs" >50</text>
<line x1="608.5" y1="683.7" x2="608.5" y2="734" stroke="#3a3a3a" stroke-width="1" />
<line x1="617.5" y1="683.7" x2="617.5" y2="734" stroke="#3a3a3a" stroke-width="1" />
<line x1="594.2" y1="733.5" x2="608.3" y2="733.5" stroke="#3a3a3a" stroke-width="1" />
<path d="M608.3,733.5 L601.8,734.6 L601.8,732.4 Z" fill="#111"/>
<line x1="617.8" y1="733.5" x2="649.6" y2="733.5" stroke="#3a3a3a" stroke-width="1" />
<path d="M617.8,733.5 L624.3,732.4 L624.3,734.6 Z" fill="#111"/>
<text x="640.7" y="731.2" font-size="12.6" text-anchor="middle" fill="#111" textLength="14.5" lengthAdjust="spacingAndGlyphs" >50</text>
<line x1="666.2" y1="694.2" x2="679.5" y2="732.5" stroke="#222" stroke-width="0.9" />
<text x="687.8" y="738.5" font-size="12.6" text-anchor="middle" fill="#111" textLength="16.5" lengthAdjust="spacingAndGlyphs" >Ø7</text>
<line x1="496.1" y1="590" x2="523.6" y2="590" stroke="#000" stroke-width="2.6" />
<line x1="510" y1="592" x2="510" y2="612.2" stroke="#111" stroke-width="1.3" />
<path d="M510.5,591.3 L511.8,597.3 L509.2,597.3 Z" fill="#111"/>
<line x1="510" y1="612.2" x2="512.2" y2="612.2" stroke="#111" stroke-width="1.3" />
<text x="516.8" y="617.2" font-size="12.8" text-anchor="middle" fill="#111" textLength="8.4" lengthAdjust="spacingAndGlyphs" >A</text>
<line x1="764.5" y1="590" x2="791.7" y2="590" stroke="#000" stroke-width="2.6" />
<line x1="777.9" y1="592" x2="777.9" y2="612.2" stroke="#111" stroke-width="1.3" />
<path d="M777.5,591.3 L778.8,597.3 L776.2,597.3 Z" fill="#111"/>
<line x1="777.9" y1="612.2" x2="780.1" y2="612.2" stroke="#111" stroke-width="1.3" />
<text x="784.7" y="617.2" font-size="12.8" text-anchor="middle" fill="#111" textLength="8.4" lengthAdjust="spacingAndGlyphs" >A</text>
<line x1="621.5" y1="471.8" x2="621.5" y2="498.9" stroke="#000" stroke-width="2.6" />
<line x1="623" y1="485.4" x2="644.8" y2="485.4" stroke="#111" stroke-width="1.3" />
<path d="M622.6,485.5 L628.6,484.2 L628.6,486.8 Z" fill="#111"/>
<line x1="644.8" y1="485.4" x2="644.8" y2="483.1" stroke="#111" stroke-width="1.3" />
<text transform="translate(648.3,480.2) rotate(-90)" font-size="12.8" text-anchor="middle" fill="#111" textLength="9.3" lengthAdjust="spacingAndGlyphs" >В</text>
<line x1="621.5" y1="746.3" x2="621.5" y2="774" stroke="#000" stroke-width="2.6" />
<line x1="623" y1="760.2" x2="644.8" y2="760.2" stroke="#111" stroke-width="1.3" />
<path d="M622.6,760.5 L628.6,759.2 L628.6,761.8 Z" fill="#111"/>
<line x1="644.8" y1="760.2" x2="644.8" y2="757.9" stroke="#111" stroke-width="1.3" />
<text transform="translate(648.3,755) rotate(-90)" font-size="12.8" text-anchor="middle" fill="#111" textLength="9.3" lengthAdjust="spacingAndGlyphs" >В</text>
</svg>
</body></html>
